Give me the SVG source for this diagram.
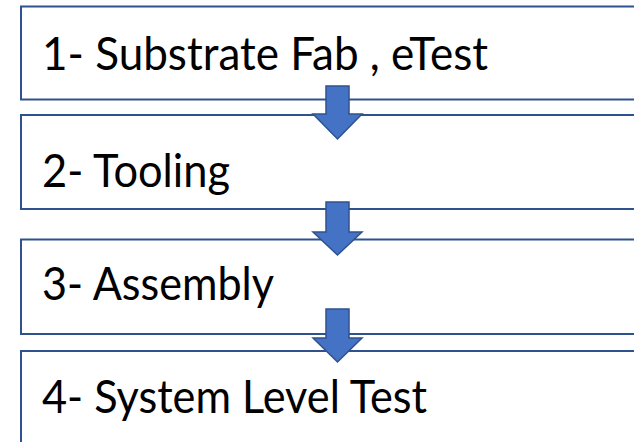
<svg xmlns="http://www.w3.org/2000/svg" width="634" height="442" viewBox="0 0 634 442">
<style>
.box{fill:#ffffff;stroke:#2F528F;stroke-width:2}
.lbl{font-family:Lato,"Liberation Sans",Arial,sans-serif;font-size:46px;fill:#000000}
.arr{fill:#4472C4;stroke:#2F528F;stroke-width:1.5;stroke-linejoin:miter}
</style>
<g id="node1"><rect class="box" x="21" y="6.5" width="630" height="93"/><text class="lbl" x="42" y="70" textLength="446" lengthAdjust="spacingAndGlyphs">1- Substrate Fab , eTest</text></g>
<g id="node2"><rect class="box" x="21" y="115" width="630" height="94"/><text class="lbl" x="42" y="187" textLength="188" lengthAdjust="spacingAndGlyphs">2- Tooling</text></g>
<g id="node3"><rect class="box" x="21" y="239.5" width="630" height="94.5"/><text class="lbl" x="42" y="300" textLength="232" lengthAdjust="spacingAndGlyphs">3- Assembly</text></g>
<g id="node4"><rect class="box" x="21" y="351" width="630" height="100"/><text class="lbl" x="42" y="413" textLength="385" lengthAdjust="spacingAndGlyphs">4- System Level Test</text></g>
<g id="connectors">
<path class="arr" d="M326,86 H349 V114 H362 L337.5,139 L313,114 H326 Z"/>
<path class="arr" d="M326,202 H349 V232 H362 L337.5,255 L313,232 H326 Z"/>
<path class="arr" d="M326,309 H349 V338 H362 L337.5,362 L313,338 H326 Z"/>
</g>
</svg>
